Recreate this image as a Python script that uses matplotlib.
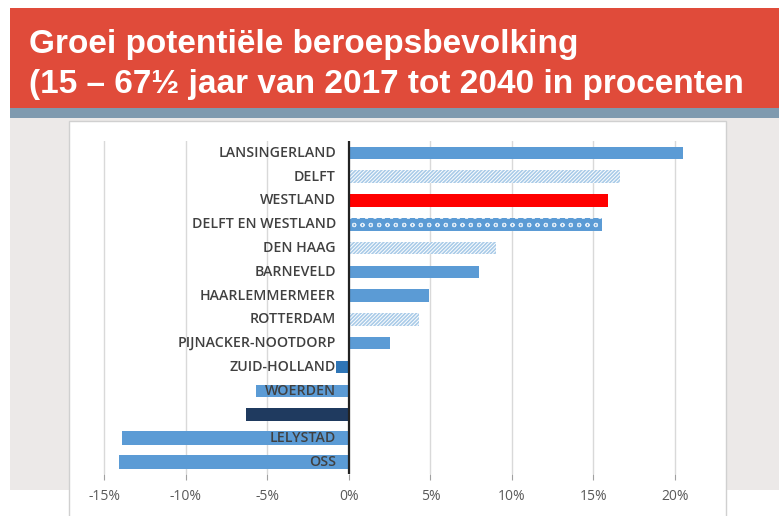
import matplotlib
matplotlib.use("Agg")
import matplotlib.pyplot as plt
from matplotlib.patches import Rectangle
import matplotlib.transforms as mtransforms
import numpy as np

# ---- data ----
categories = ["LANSINGERLAND", "DELFT", "WESTLAND", "DELFT EN WESTLAND", "DEN HAAG",
              "BARNEVELD", "HAARLEMMERMEER", "ROTTERDAM", "PIJNACKER-NOOTDORP",
              "ZUID-HOLLAND", "WOERDEN", "", "LELYSTAD", "OSS"]
values = [20.5, 16.6, 15.9, 15.5, 9.0, 8.0, 4.9, 4.3, 2.5, -0.8, -5.7, -6.3, -13.9, -14.1]
xticks = [-15, -10, -5, 0, 5, 10, 15, 20]
xticklabels = ["-15%", "-10%", "-5%", "0%", "5%", "10%", "15%", "20%"]
title_lines = ["Groei potentiële beroepsbevolking",
               "(15 – 67½ jaar van 2017 tot 2040 in procenten"]

# ---- styles ----
BLUE = "#5B9BD5"
HATCHBLUE = "#A9CBE8"
faces = [BLUE, "white", "#FF0000", BLUE, "white", BLUE, BLUE, "white", BLUE,
         "#2E75B6", BLUE, "#1F3A5F", BLUE, BLUE]
hatches = [None, "/////////", None, "oo", "/////////", None, None, "/////////", None,
           None, None, None, None, None]
hatch_edges = [None, HATCHBLUE, None, "#DDEBF7", HATCHBLUE, None, None, HATCHBLUE, None,
               None, None, None, None, None]
hatch_lw = [1, 1.2, 1, 0.8, 1.2, 1, 1, 1.2, 1, 1, 1, 1, 1, 1]
heights = [0.52, 0.52, 0.58, 0.55, 0.52, 0.52, 0.52, 0.52, 0.52, 0.52, 0.52, 0.58, 0.58, 0.58]

W, H = 779, 516
fig = plt.figure(figsize=(W / 100, H / 100), dpi=100)
fig.patch.set_facecolor("white")


def rect(x0, y0, x1, y1, **kw):
    fig.add_artist(Rectangle((x0 / W, 1 - y1 / H), (x1 - x0) / W, (y1 - y0) / H,
                             transform=fig.transFigure, **kw))


# background pieces
rect(10, 8, W, 108, facecolor="#E04B3A", edgecolor="none", zorder=0)
rect(10, 108, W, 118, facecolor="#7F9AAF", edgecolor="none", zorder=0)
rect(10, 118, W, 490, facecolor="#ECE9E8", edgecolor="none", zorder=0)
rect(69, 121, 726, 530, facecolor="white", edgecolor="#D0D0D0", linewidth=1.0, zorder=0.5)

# title
fig.text(29 / W, 1 - 45 / H, title_lines[0], color="white", fontsize=24,
         fontweight="bold", family="Liberation Sans", va="center", ha="left")
fig.text(29 / W, 1 - 85 / H, title_lines[1], color="white", fontsize=24,
         fontweight="bold", family="Liberation Sans", va="center", ha="left")

# axes
ax = fig.add_axes([101.2 / W, 42 / H, 586.8 / W, 333 / H])
ax.set_facecolor("none")
ax.set_zorder(2)
y = np.arange(len(categories))
for i in range(len(categories)):
    plt.rcParams["hatch.linewidth"] = hatch_lw[i]
    kw = dict(color=faces[i], linewidth=0, zorder=3)
    if hatches[i]:
        kw.update(hatch=hatches[i], edgecolor=hatch_edges[i])
    ax.barh(y[i], values[i], height=heights[i], **kw)

ax.set_ylim(len(categories) - 0.5, -0.5)
ax.set_xlim(-15.2, 20.8)
ax.set_xticks(xticks)
ax.set_xticklabels(xticklabels, fontsize=10, color="#595959", family="Open Sans")
ax.set_yticks([])
for s in ax.spines.values():
    s.set_visible(False)
ax.tick_params(axis="x", length=4, width=0.8, color="#A0A0A0", pad=7)
for t in xticks:
    ax.axvline(t, color="#D9D9D9", linewidth=1.0, zorder=1)
ax.axvline(0, color="#222222", linewidth=1.6, zorder=4)

off = mtransforms.offset_copy(ax.transData, fig=fig, x=-13, y=0, units="dots")
for i, lab in enumerate(categories):
    ax.text(0, y[i], lab, transform=off, ha="right", va="center", fontsize=10.2,
            fontweight="semibold", family="Open Sans", color="#404040", zorder=5)

fig.savefig("out.png", dpi=100)
